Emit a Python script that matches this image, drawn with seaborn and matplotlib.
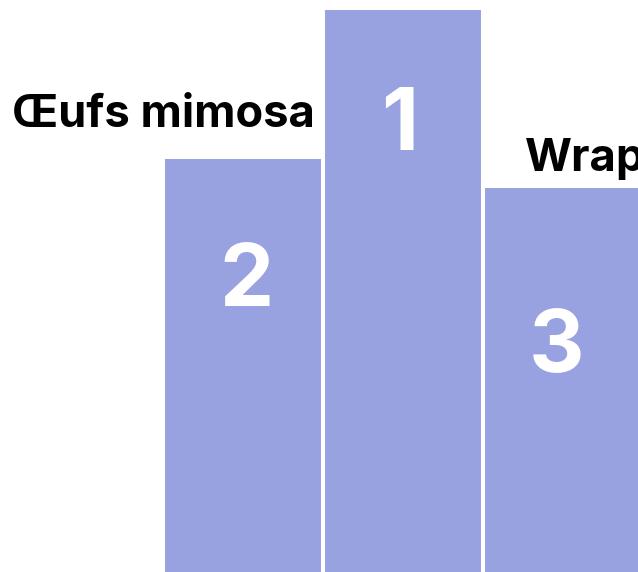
import matplotlib
matplotlib.use("Agg")
import matplotlib.pyplot as plt
import seaborn as sns
import pandas as pd

# Podium order: second place on the left, winner in the middle, third on the right
dishes = ["Œufs mimosa", "Winner", "Wrap"]
ranks = ["2", "1", "3"]
podium_heights = [73.8, 100.0, 68.6]

df = pd.DataFrame({"dish": dishes, "height": podium_heights})

sns.set_theme(style="white")
plt.rcParams["font.family"] = ["Inter", "DejaVu Sans"]

fig = plt.figure(figsize=(6.38, 5.72), dpi=100)
ax = fig.add_axes([0, 0, 1, 1])

sns.barplot(data=df, x="dish", y="height", order=dishes, color="#98a2e0",
            saturation=1, width=1.0, edgecolor="white", linewidth=2.9, ax=ax)

ax.set_xlim(-1.519, 2.469)
ax.set_ylim(0.6, 101.41)
ax.set_axis_off()

# Rank numbers inside the podium blocks
rank_x = [0.02, 0.98, 1.96]
rank_base = [47.5, 75.0, 35.8]
for x, y, r in zip(rank_x, rank_base, ranks):
    ax.text(x, y, r, ha="center", va="baseline", color="white",
            fontsize=62, fontweight="bold")

# Dish names beside the blocks
ax.text(0.45, 79.0, dishes[0], ha="right", va="baseline", color="black",
        fontsize=32.6, fontweight="bold")
ax.text(1.765, 71.3, dishes[2], ha="left", va="baseline", color="black",
        fontsize=32.6, fontweight="bold")

fig.savefig("out.png", dpi=100)
